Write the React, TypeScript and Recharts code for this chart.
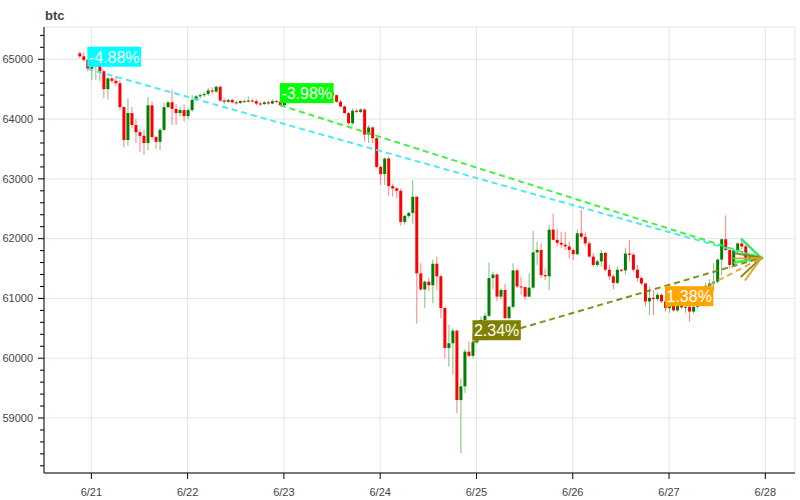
import React from 'react';
import { ComposedChart, Bar, XAxis, YAxis, CartesianGrid, ReferenceLine, ReferenceArea } from 'recharts';

// hourly candles, first one = 2024-06-20 21:00 (hour -3 relative to 6/21 00:00)
const START_HOUR = -3;

const open = [
  65100, 65050, 64990, 64842, 64880, 64900, 64800, 64500, 64680, 64640, 64600, 64200, 63650,
  64100, 63900, 63780, 63720, 63600, 64230, 63700, 63620, 63820, 64200,
  64280, 64170, 64100, 64150, 64050, 64150, 64320, 64380, 64400, 64420,
  64480, 64460, 64540, 64310, 64290, 64320, 64280, 64270, 64300, 64290,
  64310, 64300, 64260, 64250, 64280, 64260, 64300, 64290, 64233, 64280,
  64300, 64290, 64320, 64310, 64330, 64350, 64340, 64380, 64400, 64420,
  64440, 64400, 64290, 64210, 64100, 63930, 64140, 64120, 64160, 63740,
  63860, 63680, 63200, 63080, 63340, 62880, 62840, 62800, 62280, 62380,
  62430, 62700, 61420, 61150, 61280, 61220, 61580, 61370, 60840, 60170,
  60250, 60460, 59300, 59530, 60110, 60040, 60267, 60450, 60640, 60710,
  61340, 61400, 61030, 61140, 60670, 60860, 61470, 61200, 61190, 61030,
  61180, 61770, 61810, 61390, 61370, 62150, 61980, 61930, 61900, 61870,
  61810, 61740, 62090, 62030, 61920, 61700, 61560, 61620, 61760, 61480,
  61370, 61260, 61480, 61470, 61750, 61730, 61480, 61340, 61250, 60950,
  61010, 60990, 61060, 60950, 60837, 60880, 60800, 60900, 60850, 60860,
  60780, 60860, 60900, 60950, 61210, 61250, 61280, 61650, 61990, 61810,
  61560, 61810, 61920, 61870, 61650, 61700, 61730, 61660,
];

const close = [
  65050, 64990, 64842, 64880, 64900, 64800, 64500, 64680, 64640, 64600, 64200, 63650, 64100,
  63900, 63780, 63720, 63600, 64230, 63700, 63620, 63820, 64200, 64280,
  64170, 64100, 64150, 64050, 64150, 64320, 64380, 64400, 64420, 64480,
  64460, 64540, 64310, 64290, 64320, 64280, 64270, 64300, 64290, 64310,
  64300, 64260, 64250, 64280, 64260, 64300, 64290, 64233, 64280, 64300,
  64290, 64320, 64310, 64330, 64350, 64340, 64380, 64400, 64420, 64440,
  64400, 64290, 64210, 64100, 63930, 64140, 64120, 64160, 63740, 63860,
  63680, 63200, 63080, 63340, 62880, 62840, 62800, 62280, 62380, 62430,
  62700, 61420, 61150, 61280, 61220, 61580, 61370, 60840, 60170, 60250,
  60460, 59300, 59530, 60110, 60040, 60267, 60450, 60640, 60710, 61340,
  61400, 61030, 61140, 60670, 60860, 61470, 61200, 61190, 61030, 61180,
  61770, 61810, 61390, 61370, 62150, 61980, 61930, 61900, 61870, 61810,
  61740, 62090, 62030, 61920, 61700, 61560, 61620, 61760, 61480, 61370,
  61260, 61480, 61470, 61750, 61730, 61480, 61340, 61250, 60950, 61010,
  60990, 61060, 60950, 60837, 60880, 60800, 60900, 60850, 60860, 60780,
  60860, 60900, 60950, 61210, 61250, 61280, 61650, 61990, 61810, 61560,
  61810, 61920, 61870, 61650, 61700, 61730, 61660, 61677,
];

const high = [
  65130, 65120, 65010, 64920, 64940, 64920, 64820, 64700, 64700, 64720, 64650, 64220, 64350,
  64200, 64000, 63830, 63820, 64370, 64300, 63720, 63850, 64270, 64300,
  64490, 64250, 64200, 64250, 64180, 64400, 64400, 64430, 64450, 64520,
  64530, 64560, 64560, 64350, 64340, 64340, 64310, 64320, 64330, 64380,
  64340, 64330, 64290, 64300, 64310, 64330, 64320, 64310, 64300, 64320,
  64320, 64340, 64340, 64350, 64370, 64370, 64400, 64420, 64440, 64460,
  64470, 64410, 64320, 64230, 64120, 64180, 64170, 64180, 64180, 63900,
  63880, 63700, 63220, 63360, 63370, 62920, 62860, 62840, 62400, 62450,
  62980, 62710, 61590, 61300, 61350, 61650, 61700, 61400, 60860, 60560,
  60500, 60480, 59660, 60150, 60280, 60420, 60480, 60700, 60760, 61600,
  61450, 61420, 61170, 61250, 60880, 61590, 61500, 61360, 61200, 61420,
  62130, 61950, 61920, 61500, 62230, 62420, 62160, 62110, 62120, 61950,
  61830, 62150, 62480, 62100, 61950, 61760, 61650, 61810, 61780, 61560,
  61400, 61530, 61500, 61850, 61980, 61760, 61560, 61370, 61260, 61200,
  61140, 61100, 61080, 60970, 60900, 60920, 60920, 60940, 60900, 60880,
  60900, 60920, 60980, 61260, 61320, 61590, 61670, 62000, 62390, 61830,
  61830, 61940, 61980, 61910, 61730, 61760, 61760, 61720,
];

const low = [
  65020, 64960, 64800, 64650, 64650, 64640, 64350, 64330, 64600, 64550, 64150, 63530, 63550,
  63850, 63600, 63450, 63400, 63480, 63650, 63500, 63480, 63800, 64180,
  63900, 63900, 64050, 63960, 64000, 64120, 64300, 64340, 64370, 64390,
  64420, 64440, 64290, 64250, 64270, 64260, 64240, 64250, 64270, 64280,
  64280, 64230, 64220, 64240, 64240, 64250, 64270, 64210, 64220, 64260,
  64270, 64280, 64290, 64300, 64310, 64320, 64330, 64360, 64380, 64390,
  64380, 64270, 64200, 64090, 63900, 63900, 64100, 64100, 63620, 63600,
  63600, 63180, 62900, 62900, 62720, 62700, 62680, 62220, 62230, 62350,
  62250, 60580, 61130, 60840, 61120, 60920, 61140, 60670, 60000, 59860,
  59720, 59080, 58410, 59420, 60020, 60000, 60230, 60420, 60600, 60680,
  61150, 60950, 60980, 60660, 60650, 60830, 61170, 61060, 60980, 61020,
  61160, 61560, 61340, 61310, 61140, 61970, 61870, 61840, 61810, 61670,
  61640, 61720, 62000, 61880, 61680, 61530, 61530, 61530, 61450, 61310,
  61150, 61240, 61440, 61400, 61620, 61450, 61280, 61220, 60870, 60720,
  60720, 60950, 60920, 60780, 60760, 60780, 60770, 60820, 60760, 60610,
  60740, 60830, 60870, 60940, 61100, 61120, 61250, 61380, 61790, 61500,
  61540, 61760, 61820, 61620, 61600, 61650, 61640, 61640,
];

const dayLabels = ['6/21', '6/22', '6/23', '6/24', '6/25', '6/26', '6/27', '6/28'];
const dayTicks = [0, 24, 48, 72, 96, 120, 144, 168];
const yMajor = [59000, 60000, 61000, 62000, 63000, 64000, 65000];
const yTicks = [
  58200, 58400, 58600, 58800, 59000, 59200, 59400, 59600, 59800, 60000, 60200, 60400, 60600, 60800,
  61000, 61200, 61400, 61600, 61800, 62000, 62200, 62400, 62600, 62800, 63000, 63200, 63400, 63600,
  63800, 64000, 64200, 64400, 64600, 64800, 65000, 65200, 65400,
];

// change annotations: from the close 7, 5, 3 and 1 days before the last candle
const annStartHours = [-1, 47, 95, 143];
const annEndHour = 167;
const annLabels = ['-4.88%', '-3.98%', '2.34%', '1.38%'];
const annBg = ['#00ffff', '#00ff00', '#808000', '#ffa500'];
const annLine = ['#38e8f0', '#30ee30', '#808000', '#e0a02a'];

const X_DOMAIN: [number, number] = [-11.8, 175.4];
const Y_DOMAIN: [number, number] = [58080, 65540];

const FONT = '"Liberation Sans", Arial, Helvetica, sans-serif';

const data = open.map((o, i) => ({
  t: START_HOUR + i,
  open: o,
  high: high[i],
  low: low[i],
  close: close[i],
}));

const closeAt = (h: number) => close[h - START_HOUR];

const Candle = (props: any) => {
  const { x, y, width, height, payload } = props;
  if (!payload || x == null || y == null) return null;
  const o = payload.open;
  const c = payload.close;
  const h = payload.high;
  const l = payload.low;
  const up = c >= o;
  const color = up ? '#008000' : '#ff0000';
  const range = h - l;
  const ratio = range > 0 ? height / range : 0;
  const top = y + (h - Math.max(o, c)) * ratio;
  const bot = y + (h - Math.min(o, c)) * ratio;
  const cx = x + width / 2;
  return (
    <g>
      <line x1={cx} x2={cx} y1={y} y2={y + height} stroke={color} strokeOpacity={0.5} strokeWidth={1} />
      <rect x={x} y={top} width={width} height={Math.max(bot - top, 1)} fill={color} />
    </g>
  );
};

const charW: Record<string, number> = { '-': 5.33, '.': 4.45, '%': 14.22 };
const textWidth = (s: string, size: number) =>
  s.split('').reduce((acc, ch) => acc + (charW[ch] ?? 8.9) * (size / 16), 0);

const makeAnnotation = (idx: number) => (p: any) => {
  const { x1, y1, x2, y2 } = p;
  if (x1 == null) return null;
  const ang = Math.atan2(y2 - y1, x2 - x1);
  const L = 28;
  const half = Math.atan(0.5);
  const a1 = ang + Math.PI - half;
  const a2 = ang + Math.PI + half;
  const pts = `${x2 + L * Math.cos(a1)},${y2 + L * Math.sin(a1)} ${x2},${y2} ${x2 + L * Math.cos(a2)},${y2 + L * Math.sin(a2)}`;
  const label = annLabels[idx];
  const w = textWidth(label, 16) + 3;
  return (
    <g>
      <line x1={x1} y1={y1} x2={x2} y2={y2} stroke={annLine[idx]} strokeWidth={2} strokeDasharray="6 4" strokeOpacity={0.9} />
      <polyline points={pts} fill="none" stroke={annLine[idx]} strokeWidth={2} strokeOpacity={0.9} />
      <rect x={x1} y={y1 - 22} width={w} height={20} fill={annBg[idx]} />
      <text x={x1 + 1.5} y={y1 - 6} fill="#ffffff" fontSize={16} fontFamily={FONT}>
        {label}
      </text>
    </g>
  );
};

const XTick = (p: any) => {
  const i = dayTicks.indexOf(p.payload.value);
  return (
    <text x={p.x} y={p.y + 17} textAnchor="middle" fontSize={11} fill="#444" fontFamily={FONT}>
      {i >= 0 ? dayLabels[i] : ''}
    </text>
  );
};

const YTick = (p: any) => {
  const v = p.payload.value;
  const major = yMajor.indexOf(v) >= 0;
  return (
    <g>
      <line x1={major ? p.x : p.x + 2} x2={p.x + 6} y1={p.y} y2={p.y} stroke="#000" strokeWidth={1} />
      {major && (
        <text x={p.x - 5} y={p.y} dy="0.35em" textAnchor="end" fontSize={11} fill="#444" fontFamily={FONT}>
          {v}
        </text>
      )}
    </g>
  );
};

export default function App() {
  return (
    <div style={{ position: 'absolute', left: 0, top: 0, width: 800, height: 500, background: '#fff' }}>
      <div
        style={{
          position: 'absolute',
          left: 45,
          top: 8,
          fontFamily: FONT,
          fontSize: 13,
          fontWeight: 'bold',
          lineHeight: '15px',
          color: '#444',
        }}
      >
        btc
      </div>
      <ComposedChart width={800} height={500} data={data} margin={{ top: 27, right: 5, bottom: 0, left: 0 }}>
        <ReferenceArea
          x1={X_DOMAIN[0]}
          x2={X_DOMAIN[1]}
          y1={Y_DOMAIN[0]}
          y2={Y_DOMAIN[1]}
          fill="none"
          stroke="#e5e5e5"
          strokeWidth={1}
          ifOverflow="visible"
        />
        <CartesianGrid stroke="#e5e5e5" horizontalValues={yMajor} verticalValues={dayTicks} />
        <XAxis
          dataKey="t"
          type="number"
          domain={X_DOMAIN}
          allowDataOverflow
          ticks={dayTicks}
          interval={0}
          height={27}
          tickSize={6}
          tickMargin={0}
          tickLine={{ stroke: '#000' }}
          axisLine={{ stroke: '#000' }}
          tick={<XTick />}
        />
        <YAxis
          type="number"
          domain={Y_DOMAIN}
          allowDataOverflow
          ticks={yTicks}
          interval={0}
          width={44}
          tickSize={6}
          tickMargin={0}
          tickLine={false}
          axisLine={{ stroke: '#000' }}
          tick={<YTick />}
        />
        <Bar
          dataKey={(d: any) => [d.low, d.high]}
          barSize={3}
          shape={<Candle />}
          isAnimationActive={false}
        />
        {annStartHours.map((sh, i) => (
          <ReferenceLine
            key={i}
            segment={[
              { x: sh, y: closeAt(sh) },
              { x: annEndHour, y: closeAt(annEndHour) },
            ]}
            shape={makeAnnotation(i)}
            ifOverflow="visible"
          />
        ))}
      </ComposedChart>
    </div>
  );
}
